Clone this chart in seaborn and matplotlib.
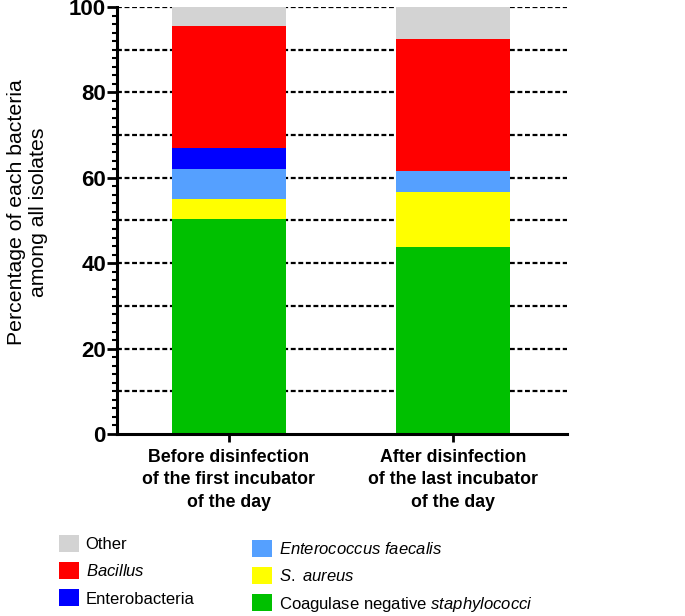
import matplotlib.pyplot as plt
import seaborn as sns
import pandas as pd
import numpy as np
from matplotlib.patches import Patch
from matplotlib.ticker import MultipleLocator

sns.set_theme(style="ticks")
plt.rcParams["font.family"] = ["Liberation Sans", "DejaVu Sans"]
plt.rcParams["mathtext.fontset"] = "custom"
plt.rcParams["mathtext.rm"] = "Liberation Sans"
plt.rcParams["mathtext.it"] = "Liberation Sans:italic"
plt.rcParams["text.color"] = "black"

groups = [
    "Before disinfection\nof the first incubator\nof the day",
    "After disinfection\nof the last incubator\nof the day",
]
# stack order, bottom to top
coagulase_neg = [50.3, 43.8]
s_aureus = [4.8, 12.9]
e_faecalis = [7.0, 5.0]
enterobacteria = [4.9, 0.0]
bacillus = [28.5, 30.9]
other = [4.5, 7.4]

layers = [coagulase_neg, s_aureus, e_faecalis, enterobacteria, bacillus, other]
names = ["Coagulase negative $\\it{staphylococci}$", "$\\it{S.\\ aureus}$",
         "$\\it{Enterococcus\\ faecalis}$", "Enterobacteria", "$\\it{Bacillus}$", "Other"]
colors = ["#00C000", "#FFFF00", "#55A0FF", "#0000FF", "#FF0000", "#D3D3D3"]

df = pd.DataFrame({"group": groups})
cum = np.zeros(len(groups))
for i, vals in enumerate(layers):
    cum = cum + np.array(vals)
    df[f"top{i}"] = cum

fig = plt.figure(figsize=(6.85, 6.16), dpi=100)
ax = fig.add_axes([0.1708, 0.2955, 0.657, 0.6931])

# draw cumulative tops from the highest layer down so lower layers cover upper
for i in reversed(range(len(layers))):
    sns.barplot(data=df, x="group", y=f"top{i}", color=colors[i], saturation=1,
                width=0.51, ax=ax, zorder=2, linewidth=0)

ax.set_xlim(-0.5, 1.51)
ax.set_ylim(0, 100)
ax.yaxis.set_major_locator(MultipleLocator(20))
ax.yaxis.set_minor_locator(MultipleLocator(2))
for y in range(10, 101, 10):
    ax.axhline(y, color="black", lw=1.6, ls=(0, (2.2, 1.2)), zorder=1)

for s in ["top", "right"]:
    ax.spines[s].set_visible(False)
ax.spines["left"].set_linewidth(2.2)
ax.spines["bottom"].set_linewidth(2.2)
ax.spines["left"].set_color("black")
ax.spines["bottom"].set_color("black")
ax.tick_params(axis="y", which="major", length=7, width=2, pad=1, labelsize=16,
               color="black", labelcolor="black")
ax.tick_params(axis="y", which="minor", length=3.5, width=1.5, color="black")
ax.tick_params(axis="x", length=6, width=2, pad=5, labelsize=12.8,
               color="black", labelcolor="black")
for lab in ax.get_yticklabels() + ax.get_xticklabels():
    lab.set_fontweight("bold")
for lab in ax.get_xticklabels():
    lab.set_linespacing(1.4)

ax.set_xlabel("")
ax.set_ylabel("Percentage of each bacteria\namong all isolates", fontsize=15.3,
              linespacing=1.2, color="black")
ax.yaxis.set_label_coords(-0.154, 0.52)

handles = [Patch(facecolor=c, edgecolor="none") for c in colors]
left_idx = [5, 4, 3]
right_idx = [2, 1, 0]
kw = dict(frameon=False, fontsize=12, handlelength=1.2, handleheight=1.2,
          handletextpad=0.4, labelspacing=0.6, borderpad=0, borderaxespad=0,
          loc="upper left", labelcolor="black")
fig.legend([handles[i] for i in left_idx], [names[i] for i in left_idx],
           bbox_to_anchor=(59 / 685, 1 - 535 / 616), **kw)
fig.legend([handles[i] for i in right_idx], [names[i] for i in right_idx],
           bbox_to_anchor=(252 / 685, 1 - 540 / 616), **kw)

fig.savefig("out.png", dpi=100)
